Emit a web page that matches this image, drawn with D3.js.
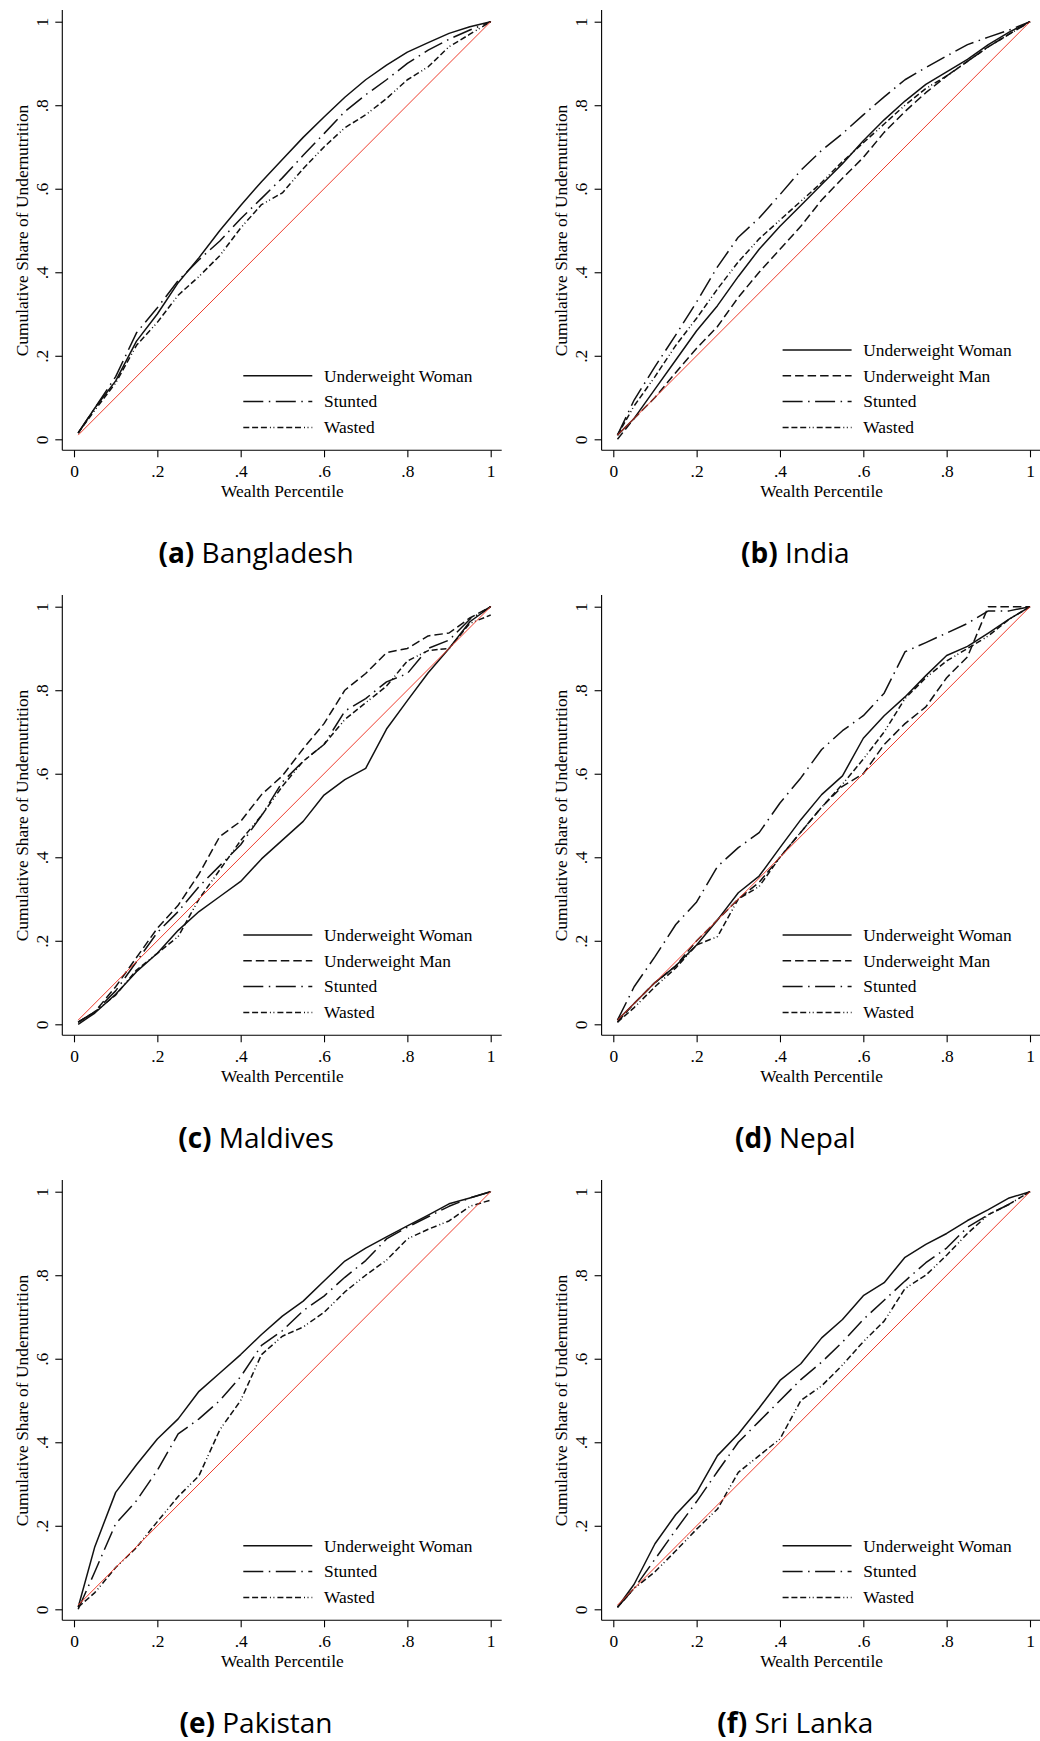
<!DOCTYPE html>
<html>
<head>
<meta charset="utf-8">
<script src="https://cdn.jsdelivr.net/npm/d3@7"></script>
<style>
  html, body { margin: 0; padding: 0; background: #fff; }
  svg { display: block; }
  .axis-text { font-family: "Liberation Serif", "Times New Roman", serif; font-size: 17.4px; fill: #000; }
  .caption { font-family: "Open Sans", "Noto Sans", sans-serif; font-size: 28px; fill: #000; }
</style>
</head>
<body>
<svg id="chart" width="1040" height="1741"></svg>
<script>
// Wealth percentile grid shared by every concentration curve
const wealthPct = [0.01, 0.05, 0.10, 0.15, 0.20, 0.25, 0.30, 0.35, 0.40, 0.45, 0.50,
                   0.55, 0.60, 0.65, 0.70, 0.75, 0.80, 0.85, 0.90, 0.95, 1.00];

// Axis ticks
const tickValues = [0, 0.2, 0.4, 0.6, 0.8, 1];
const tickLabels = ["0", ".2", ".4", ".6", ".8", "1"];

// Panel captions
const panelLetters = ["(a)", "(b)", "(c)", "(d)", "(e)", "(f)"];
const countries = ["Bangladesh", "India", "Maldives", "Nepal", "Pakistan", "Sri Lanka"];

// Series names (legend order)
const seriesNames = ["Underweight Woman", "Underweight Man", "Stunted", "Wasted"];

// Cumulative share of undernutrition, by country and indicator
const bangladeshWoman   = [0.015, 0.075, 0.14, 0.235, 0.30, 0.375, 0.435, 0.50, 0.56, 0.617, 0.67, 0.723, 0.772, 0.819, 0.861, 0.896, 0.927, 0.95, 0.972, 0.988, 1.0];
const bangladeshStunted = [0.015, 0.075, 0.15, 0.255, 0.315, 0.38, 0.43, 0.475, 0.528, 0.577, 0.626, 0.68, 0.732, 0.785, 0.825, 0.861, 0.90, 0.932, 0.958, 0.98, 1.0];
const bangladeshWasted  = [0.015, 0.07, 0.135, 0.225, 0.28, 0.345, 0.39, 0.44, 0.506, 0.562, 0.59, 0.648, 0.70, 0.746, 0.777, 0.816, 0.861, 0.892, 0.94, 0.97, 1.0];

const indiaWoman   = [0.01, 0.05, 0.12, 0.19, 0.26, 0.32, 0.39, 0.455, 0.51, 0.56, 0.61, 0.66, 0.715, 0.765, 0.81, 0.85, 0.88, 0.91, 0.945, 0.975, 1.0];
const indiaMan     = [0.0, 0.05, 0.10, 0.16, 0.218, 0.27, 0.34, 0.40, 0.455, 0.51, 0.573, 0.625, 0.675, 0.735, 0.785, 0.83, 0.87, 0.905, 0.94, 0.97, 1.0];
const indiaStunted = [0.01, 0.094, 0.174, 0.25, 0.329, 0.413, 0.484, 0.53, 0.586, 0.644, 0.692, 0.732, 0.777, 0.82, 0.861, 0.89, 0.918, 0.945, 0.963, 0.98, 1.0];
const indiaWasted  = [0.01, 0.08, 0.15, 0.225, 0.29, 0.36, 0.425, 0.48, 0.525, 0.57, 0.615, 0.665, 0.71, 0.755, 0.80, 0.84, 0.87, 0.905, 0.94, 0.97, 1.0];

const maldivesWoman   = [0.0, 0.027, 0.072, 0.126, 0.17, 0.225, 0.27, 0.306, 0.342, 0.396, 0.441, 0.486, 0.549, 0.586, 0.613, 0.707, 0.775, 0.842, 0.90, 0.964, 1.0];
const maldivesMan     = [0.005, 0.03, 0.09, 0.16, 0.23, 0.285, 0.36, 0.45, 0.486, 0.55, 0.595, 0.66, 0.72, 0.80, 0.84, 0.89, 0.90, 0.93, 0.937, 0.973, 1.0];
const maldivesStunted = [0.005, 0.03, 0.08, 0.15, 0.22, 0.27, 0.33, 0.38, 0.43, 0.50, 0.58, 0.63, 0.67, 0.75, 0.78, 0.82, 0.84, 0.90, 0.92, 0.97, 1.0];
const maldivesWasted  = [0.005, 0.03, 0.07, 0.13, 0.17, 0.21, 0.30, 0.37, 0.44, 0.50, 0.57, 0.63, 0.67, 0.73, 0.77, 0.81, 0.87, 0.895, 0.90, 0.96, 0.98];

const nepalWoman   = [0.01, 0.05, 0.10, 0.14, 0.19, 0.25, 0.315, 0.355, 0.423, 0.49, 0.55, 0.595, 0.685, 0.739, 0.784, 0.835, 0.883, 0.905, 0.937, 0.97, 1.0];
const nepalMan     = [0.005, 0.05, 0.10, 0.14, 0.20, 0.25, 0.30, 0.34, 0.40, 0.46, 0.52, 0.57, 0.60, 0.67, 0.72, 0.76, 0.83, 0.88, 1.0, 1.0, 1.0];
const nepalStunted = [0.01, 0.09, 0.162, 0.239, 0.293, 0.378, 0.423, 0.459, 0.53, 0.59, 0.658, 0.703, 0.739, 0.793, 0.892, 0.914, 0.937, 0.96, 0.99, 0.99, 1.0];
const nepalWasted  = [0.005, 0.04, 0.09, 0.135, 0.19, 0.21, 0.30, 0.33, 0.40, 0.46, 0.52, 0.575, 0.635, 0.70, 0.78, 0.83, 0.87, 0.90, 0.93, 0.97, 1.0];

const pakistanWoman   = [0.005, 0.15, 0.28, 0.346, 0.408, 0.456, 0.522, 0.566, 0.61, 0.658, 0.702, 0.738, 0.786, 0.834, 0.865, 0.892, 0.918, 0.944, 0.971, 0.985, 1.0];
const pakistanStunted = [0.0, 0.09, 0.205, 0.26, 0.333, 0.42, 0.456, 0.50, 0.557, 0.632, 0.667, 0.715, 0.75, 0.795, 0.835, 0.887, 0.915, 0.94, 0.965, 0.985, 1.0];
const pakistanWasted  = [0.005, 0.04, 0.10, 0.148, 0.21, 0.27, 0.32, 0.43, 0.50, 0.61, 0.654, 0.676, 0.711, 0.76, 0.80, 0.836, 0.887, 0.91, 0.93, 0.965, 0.98];

const sriLankaWoman   = [0.005, 0.06, 0.157, 0.227, 0.28, 0.368, 0.42, 0.482, 0.548, 0.588, 0.65, 0.694, 0.751, 0.782, 0.843, 0.874, 0.90, 0.931, 0.957, 0.985, 1.0];
const sriLankaStunted = [0.005, 0.05, 0.12, 0.19, 0.258, 0.33, 0.40, 0.45, 0.50, 0.55, 0.592, 0.64, 0.694, 0.74, 0.786, 0.83, 0.865, 0.915, 0.945, 0.97, 1.0];
const sriLankaWasted  = [0.005, 0.05, 0.09, 0.14, 0.192, 0.24, 0.328, 0.368, 0.408, 0.50, 0.535, 0.585, 0.641, 0.69, 0.768, 0.80, 0.848, 0.90, 0.945, 0.97, 1.0];

// Equality line end points
const equalityLine = [[0.01, 0.01], [1, 1]];

// Panel contents: which indicators each country reports
const panels = [
  { series: { "Underweight Woman": bangladeshWoman, "Stunted": bangladeshStunted, "Wasted": bangladeshWasted } },
  { series: { "Underweight Woman": indiaWoman, "Underweight Man": indiaMan, "Stunted": indiaStunted, "Wasted": indiaWasted } },
  { series: { "Underweight Woman": maldivesWoman, "Underweight Man": maldivesMan, "Stunted": maldivesStunted, "Wasted": maldivesWasted } },
  { series: { "Underweight Woman": nepalWoman, "Underweight Man": nepalMan, "Stunted": nepalStunted, "Wasted": nepalWasted } },
  { series: { "Underweight Woman": pakistanWoman, "Stunted": pakistanStunted, "Wasted": pakistanWasted } },
  { series: { "Underweight Woman": sriLankaWoman, "Stunted": sriLankaStunted, "Wasted": sriLankaWasted } }
];

// Line patterns per indicator
const lineStyle = {
  "Underweight Woman": { dash: null },
  "Underweight Man":   { dash: "8.5,4" },
  "Stunted":           { dash: "20,5.5,1.5,5.5" },
  "Wasted":            { dash: "6,2.8,6,2.8,6,3,1,2.5,1,3" }
};

// Layout
const colX = [0, 539.3];
const rowY = [0, 585, 1170];
const svg = d3.select("#chart");
svg.append("rect").attr("width", 1040).attr("height", 1741).attr("fill", "#fff");

const x = d3.scaleLinear().domain([0, 1]).range([74, 490.7]);
const y = d3.scaleLinear().domain([0, 1]).range([439.3, 21.7]);
const axisX = 62.3, axisY = 450.3;

const line = d3.line()
  .x((d) => x(d[0]))
  .y((d) => y(d[1]));

const fmt = (d) => tickLabels[tickValues.indexOf(d)];

panels.forEach((p, i) => {
  const g = svg.append("g")
    .attr("transform", `translate(${colX[i % 2]},${rowY[Math.floor(i / 2)]})`);

  // axis spines
  g.append("line").attr("x1", axisX).attr("x2", axisX).attr("y1", 10).attr("y2", axisY)
    .attr("stroke", "#000").attr("stroke-width", 1.1);
  g.append("line").attr("x1", axisX).attr("x2", 501.7).attr("y1", axisY).attr("y2", axisY)
    .attr("stroke", "#000").attr("stroke-width", 1.1);

  // x ticks
  const gx = g.append("g").attr("transform", `translate(0,${axisY})`)
    .call(d3.axisBottom(x).tickValues(tickValues).tickFormat(fmt).tickSize(7).tickSizeOuter(0));
  gx.select(".domain").remove();
  gx.selectAll(".tick line").attr("stroke", "#000").attr("stroke-width", 1.1);
  gx.selectAll(".tick text").attr("class", "axis-text").attr("y", 27).attr("dy", null)
    .attr("font-family", null).attr("font-size", null);

  // y ticks (labels rotated)
  const gy = g.append("g").attr("transform", `translate(${axisX},0)`)
    .call(d3.axisLeft(y).tickValues(tickValues).tickFormat(fmt).tickSize(7).tickSizeOuter(0));
  gy.select(".domain").remove();
  gy.selectAll(".tick line").attr("stroke", "#000").attr("stroke-width", 1.1);
  gy.selectAll(".tick text").attr("class", "axis-text")
    .attr("x", 0).attr("y", 0).attr("dy", null)
    .attr("text-anchor", "middle")
    .attr("transform", "translate(-14.5,0) rotate(-90)");
  g.selectAll(".tick text").attr("font-family", null).attr("font-size", null);

  // axis titles
  g.append("text").attr("class", "axis-text").attr("text-anchor", "middle")
    .attr("transform", `translate(28,${(y(0) + y(1)) / 2}) rotate(-90)`)
    .text("Cumulative Share of Undernutrition");
  g.append("text").attr("class", "axis-text").attr("text-anchor", "middle")
    .attr("x", (x(0) + x(1)) / 2).attr("y", 497)
    .text("Wealth Percentile");

  // concentration curves
  const names = seriesNames.filter((n) => p.series[n]);
  names.forEach((n) => {
    const pts = wealthPct.map((w, k) => [w, p.series[n][k]]);
    g.append("path").datum(pts)
      .attr("d", line)
      .attr("fill", "none")
      .attr("stroke", "#111")
      .attr("stroke-width", 1.5)
      .attr("stroke-linejoin", "round")
      .attr("stroke-dasharray", lineStyle[n].dash);
  });

  // line of equality
  g.append("path").datum(equalityLine)
    .attr("d", line)
    .attr("fill", "none")
    .attr("stroke", "#ee3d2d")
    .attr("stroke-width", 1);

  // legend, anchored at the bottom right of the plot
  const rowGap = 25.8, lastRow = 427.4;
  names.forEach((n, k) => {
    const ly = lastRow - (names.length - 1 - k) * rowGap;
    g.append("line").attr("x1", 243.3).attr("x2", 312.3).attr("y1", ly).attr("y2", ly)
      .attr("stroke", "#111").attr("stroke-width", 1.5)
      .attr("stroke-dasharray", lineStyle[n].dash);
    g.append("text").attr("class", "axis-text").attr("x", 324).attr("y", ly + 5.8).text(n);
  });

  // caption
  const cap = g.append("text").attr("class", "caption").attr("text-anchor", "middle")
    .attr("x", 256).attr("y", 563);
  cap.append("tspan").attr("font-weight", "bold").text(panelLetters[i]);
  cap.append("tspan").text(" " + countries[i]);
});
</script>
</body>
</html>
